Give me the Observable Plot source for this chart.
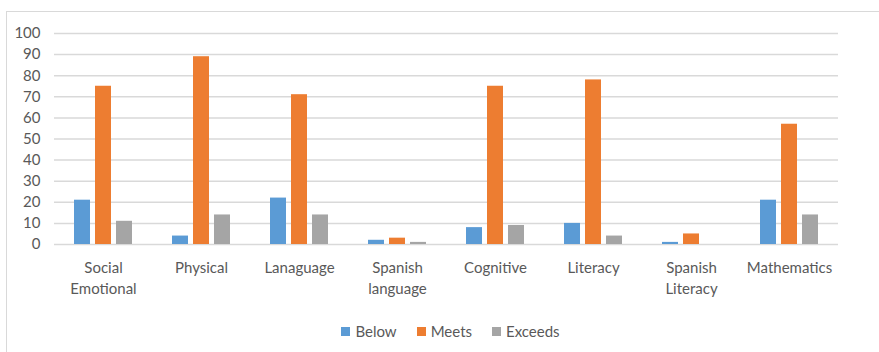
<!DOCTYPE html>
<html>
<head>
<meta charset="utf-8">
<script src="https://cdn.jsdelivr.net/npm/d3@7"></script>
<script src="https://cdn.jsdelivr.net/npm/@observablehq/plot@0.6"></script>
<style>
  html, body { margin: 0; padding: 0; background: #fff; }
  #wrap { position: relative; width: 879px; height: 352px; overflow: hidden; font-family: Lato, "Open Sans", sans-serif; }
  #frame { position: absolute; left: 6px; top: 11px; width: 900px; height: 400px; border-left: 1px solid #d9d9d9; border-top: 1px solid #d9d9d9; }
  #chart { position: absolute; left: 0; top: 0; }
  #legend { position: absolute; left: 0; top: 322px; width: 901px; display: flex; justify-content: center; gap: 20px; font-size: 15px; color: #595959; }
  #legend span.item { display: flex; align-items: center; gap: 5px; }
  #legend span.sw { width: 9px; height: 9px; display: inline-block; }
</style>
</head>
<body>
<div id="wrap">
  <div id="frame"></div>
  <div id="chart"></div>
  <div id="legend"></div>
</div>
<script>
const categories = ["Social Emotional", "Physical", "Lanaguage", "Spanish language", "Cognitive", "Literacy", "Spanish Literacy", "Mathematics"];
const categoryLabels = ["Social\nEmotional", "Physical", "Lanaguage", "Spanish\nlanguage", "Cognitive", "Literacy", "Spanish\nLiteracy", "Mathematics"];
const seriesNames = ["Below", "Meets", "Exceeds"];
const seriesColors = ["#5b9bd5", "#ed7d31", "#a5a5a5"];
const below   = [21, 4, 22, 2, 8, 10, 1, 21];
const meets   = [75, 89, 71, 3, 75, 78, 5, 57];
const exceeds = [11, 14, 14, 1, 9, 4, 0, 14];
const yTicks = [0, 10, 20, 30, 40, 50, 60, 70, 80, 90, 100];

const seriesValues = [below, meets, exceeds];
const data = [];
categories.forEach((c, i) => {
  seriesNames.forEach((s, j) => data.push({category: c, series: s, value: seriesValues[j][i]}));
});
const labelOf = new Map(categories.map((c, i) => [c, categoryLabels[i]]));

const chart = Plot.plot({
  width: 879,
  height: 310,
  marginLeft: 52,
  marginRight: 39,
  marginTop: 33,
  marginBottom: 66,
  style: {fontFamily: "Lato, 'Open Sans', sans-serif", fontSize: "15px", color: "#595959", background: "transparent"},
  fx: {domain: categories, padding: 0},
  x: {domain: seriesNames, paddingInner: 0.23, paddingOuter: 0.85, axis: null},
  y: {domain: [0, 100], axis: null},
  color: {domain: seriesNames, range: seriesColors},
  marks: [
    Plot.ruleY(yTicks, {stroke: "#d9d9d9", strokeWidth: 1.5}),
    Plot.barY(data, {fx: "category", x: "series", y: "value", fill: "series"}),
    Plot.axisY({ticks: yTicks, tickSize: 0, tickPadding: 14, fontSize: 15, fill: "#595959", label: null}),
    Plot.axisFx({anchor: "bottom", tickSize: 0, tickPadding: 14, fontSize: 15, fill: "#595959", lineHeight: 1.4, label: null, tickFormat: d => labelOf.get(d)})
  ]
});
document.getElementById("chart").appendChild(chart);

const legend = document.getElementById("legend");
seriesNames.forEach((s, i) => {
  const item = document.createElement("span");
  item.className = "item";
  const sw = document.createElement("span");
  sw.className = "sw";
  sw.style.background = seriesColors[i];
  item.appendChild(sw);
  item.appendChild(document.createTextNode(s));
  legend.appendChild(item);
});
</script>
</body>
</html>
